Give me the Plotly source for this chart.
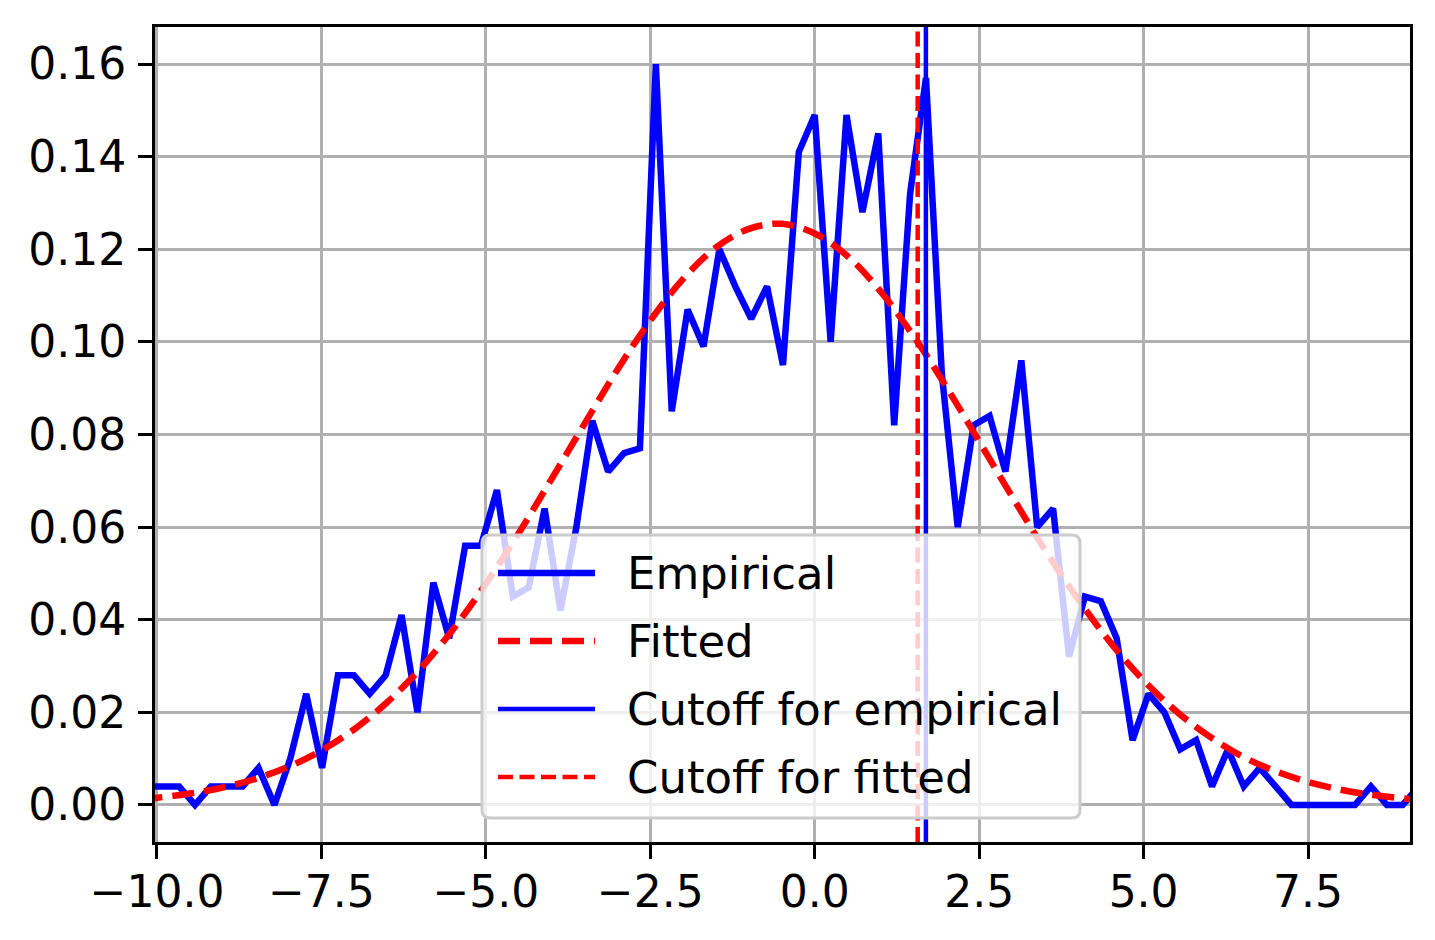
import plotly.graph_objects as go

# ---------------- data ----------------
bin_centers = [
    -10.147, -9.906, -9.664, -9.422, -9.181, -8.939, -8.698, -8.456, -8.214, -7.973,
    -7.731, -7.490, -7.248, -7.006, -6.765, -6.523, -6.282, -6.040, -5.798, -5.557,
    -5.315, -5.074, -4.832, -4.590, -4.349, -4.107, -3.866, -3.624, -3.382, -3.141,
    -2.899, -2.658, -2.416, -2.174, -1.933, -1.691, -1.450, -1.208, -0.966, -0.725,
    -0.483, -0.242, 0.000, 0.242, 0.483, 0.725, 0.966, 1.208, 1.450, 1.691,
    1.933, 2.174, 2.416, 2.658, 2.899, 3.141, 3.382, 3.624, 3.866, 4.107,
    4.349, 4.590, 4.832, 5.074, 5.315, 5.557, 5.798, 6.040, 6.282, 6.523,
    6.765, 7.006, 7.248, 7.490, 7.731, 7.973, 8.214, 8.456, 8.698, 8.939,
    9.181,
]
empirical_density = [
    0.004, 0.004, 0.004, 0.000, 0.004, 0.004, 0.004, 0.008, 0.000, 0.010,
    0.024, 0.008, 0.028, 0.028, 0.024, 0.028, 0.041, 0.020, 0.048, 0.036,
    0.056, 0.056, 0.068, 0.045, 0.047, 0.064, 0.042, 0.060, 0.083, 0.072,
    0.076, 0.077, 0.160, 0.085, 0.107, 0.099, 0.120, 0.112, 0.105, 0.112,
    0.095, 0.141, 0.149, 0.100, 0.149, 0.128, 0.145, 0.082, 0.132, 0.157,
    0.093, 0.060, 0.082, 0.084, 0.072, 0.096, 0.060, 0.064, 0.032, 0.045,
    0.044, 0.036, 0.014, 0.024, 0.020, 0.012, 0.014, 0.004, 0.012, 0.004,
    0.008, 0.004, 0.000, 0.000, 0.000, 0.000, 0.000, 0.004, 0.000, 0.000,
    0.004,
]
fit_x = [
    -10.25, -10.0, -9.5, -9.0, -8.5, -8.0, -7.5, -7.0, -6.5, -6.0, -5.5, -5.0,
    -4.5, -4.0, -3.5, -3.0, -2.5, -2.0, -1.5, -1.0, -0.5, 0.0, 0.5, 1.0,
    1.5, 2.0, 2.5, 3.0, 3.5, 4.0, 4.5, 5.0, 5.5, 6.0, 6.5, 7.0,
    7.5, 8.0, 8.5, 9.0, 9.25,
]
fit_density = [
    0.00123, 0.00156, 0.00246, 0.00377, 0.00565, 0.00825, 0.01176, 0.01635, 0.02218, 0.02937, 0.03791, 0.04777,
    0.05870, 0.07040, 0.08230, 0.09400, 0.10460, 0.11360, 0.12040, 0.12440, 0.12550, 0.12340, 0.11850, 0.11090,
    0.10130, 0.09030, 0.07850, 0.06660, 0.05510, 0.04450, 0.03500, 0.02690, 0.02020, 0.01480, 0.01050, 0.00733,
    0.00497, 0.00329, 0.00213, 0.00134, 0.00106,
]
cutoff_empirical = 1.69
cutoff_fitted = 1.565
legend_labels = ["Empirical", "Fitted", "Cutoff for empirical", "Cutoff for fitted"]
x_ticks = [-10.0, -7.5, -5.0, -2.5, 0.0, 2.5, 5.0, 7.5]
y_ticks = [0.00, 0.02, 0.04, 0.06, 0.08, 0.10, 0.12, 0.14, 0.16]

# ---------------- styling / geometry ----------------
BLUE = "#0000ff"
RED = "#ff0000"
FONT = "DejaVu Sans"
PAGE_OFFSET = 8                      # browser body margin
PLOT_L, PLOT_T, PLOT_R, PLOT_B = 155, 27, 1410, 842   # target plot area on screen
W, H = 1435 - PAGE_OFFSET, 940 - PAGE_OFFSET
ML = PLOT_L - PAGE_OFFSET
MT = PLOT_T - PAGE_OFFSET
MR = PAGE_OFFSET + W - PLOT_R
MB = PAGE_OFFSET + H - PLOT_B
PW, PH = PLOT_R - PLOT_L, PLOT_B - PLOT_T

def px_to_paper(px, py):
    return (px - PLOT_L) / PW, (PLOT_B - py) / PH

fig = go.Figure()
fig.add_trace(go.Scatter(x=bin_centers, y=empirical_density, mode="lines",
                         line=dict(color=BLUE, width=6.5), showlegend=False))
fig.add_trace(go.Scatter(x=fit_x, y=fit_density, mode="lines",
                         line=dict(color=RED, width=6.5, dash="22px,10px", shape="spline"),
                         showlegend=False))

shapes = [
    dict(type="line", xref="x", yref="paper", x0=cutoff_fitted, x1=cutoff_fitted, y0=0, y1=1,
         line=dict(color=RED, width=4.5, dash="15px,6.5px"), layer="above"),
    dict(type="line", xref="x", yref="paper", x0=cutoff_empirical, x1=cutoff_empirical, y0=0, y1=1,
         line=dict(color=BLUE, width=4.5), layer="above"),
]

# manual legend box (matplotlib-like, semi-transparent, rounded corners)
bx0, by0 = px_to_paper(482, 818)
bx1, by1 = px_to_paper(1080, 535)
rx, ry = 8 / PW, 8 / PH
path = (f"M{bx0+rx},{by0} L{bx1-rx},{by0} Q{bx1},{by0} {bx1},{by0+ry} "
        f"L{bx1},{by1-ry} Q{bx1},{by1} {bx1-rx},{by1} L{bx0+rx},{by1} "
        f"Q{bx0},{by1} {bx0},{by1-ry} L{bx0},{by0+ry} Q{bx0},{by0} {bx0+rx},{by0} Z")
shapes.append(dict(type="path", xref="paper", yref="paper", path=path,
                   fillcolor="rgba(255,255,255,0.8)", line=dict(color="#cccccc", width=3),
                   layer="above"))

legend_styles = [
    dict(color=BLUE, width=6.5, dash="solid"),
    dict(color=RED, width=6.5, dash="22px,10px"),
    dict(color=BLUE, width=4.5, dash="solid"),
    dict(color=RED, width=4.5, dash="15px,6.5px"),
]
row_y = [573, 641, 709, 777]
annotations = []
for label, sty, ry_px in zip(legend_labels, legend_styles, row_y):
    lx0, ly = px_to_paper(498, ry_px)
    lx1, _ = px_to_paper(595, ry_px)
    shapes.append(dict(type="line", xref="paper", yref="paper", x0=lx0, x1=lx1, y0=ly, y1=ly,
                       line=sty, layer="above"))
    tx, _ = px_to_paper(625, ry_px)
    annotations.append(dict(xref="paper", yref="paper", x=tx, y=ly, text=label,
                            showarrow=False, xanchor="left", yanchor="middle",
                            font=dict(family=FONT, size=45, color="black")))

axis_common = dict(showgrid=True, gridcolor="#b0b0b0", gridwidth=3, zeroline=False,
                   showline=True, linecolor="black", linewidth=3, mirror=True,
                   ticks="outside", ticklen=14, tickwidth=3, tickcolor="black",
                   tickfont=dict(family=FONT, size=44, color="black"))

fig.update_layout(
    width=W, height=H,
    margin=dict(l=ML, r=MR, t=MT, b=MB),
    plot_bgcolor="white", paper_bgcolor="white",
    shapes=shapes, annotations=annotations,
    xaxis=dict(range=[-10.03, 9.05], tickvals=x_ticks,
               ticktext=[f"{v:.1f}".replace("-", "\u2212") for v in x_ticks],
               ticklabelstandoff=-5, **axis_common),
    yaxis=dict(range=[-0.008, 0.168], tickvals=y_ticks,
               ticktext=[f"{v:.2f}" for v in y_ticks],
               ticklabelstandoff=3, **axis_common),
    showlegend=False,
)

fig.write_html("out.html")
